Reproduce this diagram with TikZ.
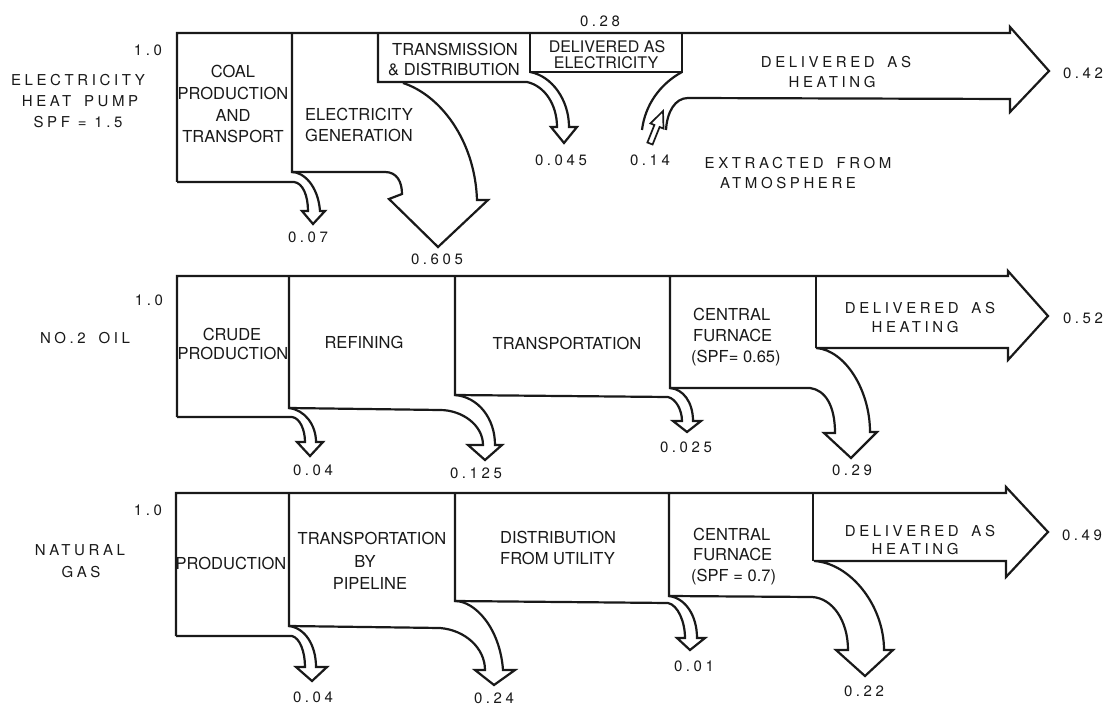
\documentclass[tikz,border=0pt]{standalone}
\usepackage{fontspec}
\setmainfont{TeX Gyre Heros}
\newfontfamily\bxfont{TeX Gyre Heros}
\newfontfamily\spfont{TeX Gyre Heros}[LetterSpace=24]
\definecolor{ink}{RGB}{25,25,25}
\newcommand\wg{\hspace{5pt}}
\tikzset{
  flow/.style={draw=ink, line width=2.2pt, line join=miter, line cap=butt},
  bx/.style={font=\bxfont\fontsize{16.5}{18}\selectfont, text=ink, inner sep=0pt, anchor=base},
  bxs/.style={bx, font=\bxfont\fontsize{16}{18}\selectfont},
  bxl/.style={bx, anchor=base west},
  sp/.style={font=\spfont\fontsize{15}{18}\selectfont, text=ink, inner sep=0pt, anchor=base},
}
\begin{document}
\begin{tikzpicture}[x=1pt,y=-1pt]
\useasboundingbox[fill=white] (0,0) rectangle (1111,708);

% ---------------- Row 1: electricity heat pump ----------------
\draw[flow] (177,182) -- (177,33) -- (1010,33) -- (1010,27) -- (1049,71) -- (1010,112) -- (1010,99) -- (688,98) .. controls (675,98) and (667,112) .. (666,130);
\draw[flow] (682,72) .. controls (660,84) and (645,105) .. (642,130);
\draw[flow] (530,33) -- (530,72) -- (682,72) -- (682,33);
\draw[flow] (378,33) -- (378,82) -- (527,82) .. controls (545,86) and (557,105) .. (557,127) -- (551,127) -- (564,143) -- (577,127) -- (569,127) .. controls (569,100) and (552,76) .. (530,72);
\draw[flow] (292,33) -- (292,172) -- (385,172) .. controls (397,172) and (402,182) .. (402,194) -- (389,199) -- (438,247) -- (488,200) -- (477,200) .. controls (475,140) and (440,95) .. (403,83);
\draw[flow] (177,182) -- (294,182) .. controls (303,183) and (308,196) .. (308,211) -- (302,211) -- (313,224) -- (325,211) -- (320,211) .. controls (318,185) and (303,172) .. (292,172);
\draw[flow, line width=1.7pt] (647.4,142.5) -- (652.6,144.5) -- (659.6,127) -- (663.5,128.6) -- (663,111) -- (650.5,123.4) -- (654.4,125) -- cycle;

\node[sp] (oneA) at (148,55.5) {1.0};
\node[sp] (labAa) at (78,85.5) {ELECTRICITY};
\node[sp] (labAb) at (80,106.5) {HEAT\wg{} PUMP};
\node[sp] (labAc) at (78,127.5) {SPF = 1.5};
\node[bx] (coalA) at (233,78) {COAL};
\node[bx] (coalB) at (233,100) {PRODUCTION};
\node[bx] (coalC) at (233,122) {AND};
\node[bx] (coalD) at (233,143) {TRANSPORT};
\node[bxl] (genA) at (305,121) {ELECTRICITY};
\node[bxl] (genB) at (305,142) {GENERATION};
\node[bx] (tdA) at (455,56) {TRANSMISSION};
\node[bx] (tdB) at (454,76) {\& DISTRIBUTION};
\node[bxs] (deA) at (607,53) {DELIVERED AS};
\node[bxs] (deB) at (606,69) {ELECTRICITY};
\node[sp] (vA28) at (600,26.5) {0.28};
\node[sp] (hAa) at (836,67.5) {DELIVERED\wg{} AS};
\node[sp] (hAb) at (832,87.5) {HEATING};
\node[sp] (vA42) at (1083,78.5) {0.42};
\node[sp] (vA045) at (561,165.5) {0.045};
\node[sp] (vA14) at (650,165.5) {0.14};
\node[sp] (exA) at (798,168.5) {EXTRACTED\wg{} FROM};
\node[sp] (exB) at (788,188.5) {ATMOSPHERE};
\node[sp] (vA07) at (308,242.5) {0.07};
\node[sp] (vA605) at (437,264.5) {0.605};

% ---------------- Row 2: No.2 oil ----------------
\draw[flow] (177,417) -- (177,276) -- (1008,276) -- (1008,271) -- (1048,316) -- (1008,360) -- (1008,348) -- (816,348) .. controls (845,350) and (870,390) .. (870,432) -- (877,432) -- (851,458) -- (824,433) -- (835,433) .. controls (835,405) and (825,390) .. (810,388) -- (670,388) -- (670,276);
\draw[flow] (816,276) -- (816,348);
\draw[flow] (455,276) -- (455,395) -- (668,397) .. controls (676,399) and (682,410) .. (682,421) -- (673,421) -- (687,432) -- (701,421) -- (693,421) .. controls (693,402) and (683,389) .. (670,388);
\draw[flow] (289,276) -- (289,408) -- (440,410) .. controls (462,410) and (483,425) .. (483,445) -- (468,445) -- (485,460) -- (502,445) -- (495,445) .. controls (495,418) and (478,397) .. (455,395);
\draw[flow] (177,417) -- (292,417) .. controls (300,418) and (305,430) .. (305,442) -- (297,442) -- (310,456) -- (323,442) -- (316,442) .. controls (316,425) and (305,410) .. (289,408);

\node[sp] (oneB) at (149,305.5) {1.0};
\node[sp] (labB) at (85,343.5) {NO.2\wg{} OIL};
\node[bx] (crA) at (232,341) {CRUDE};
\node[bx] (crB) at (233,360) {PRODUCTION};
\node[bx] (ref) at (364,349) {REFINING};
\node[bx] (trB) at (567,350) {TRANSPORTATION};
\node[bxl] (cfBa) at (693,321) {CENTRAL};
\node[bxl] (cfBb) at (693,342) {FURNACE};
\node[bxl] (cfBc) at (691,363) {(SPF= 0.65)};
\node[sp] (hBa) at (920,313.5) {DELIVERED\wg{} AS};
\node[sp] (hBb) at (915,332.5) {HEATING};
\node[sp] (vB52) at (1083,323.5) {0.52};
\node[sp] (vB04) at (313,475.5) {0.04};
\node[sp] (vB125) at (476,478.5) {0.125};
\node[sp] (vB025) at (686,452.5) {0.025};
\node[sp] (vB29) at (852,475.5) {0.29};

% ---------------- Row 3: natural gas ----------------
\draw[flow] (176,636) -- (176,493) -- (1006,493) -- (1006,487) -- (1048,532) -- (1006,577) -- (1006,561) -- (814,561) .. controls (850,563) and (884,605) .. (884,650) -- (893,650) -- (865,676) -- (836,650) -- (848,650) .. controls (848,620) and (832,598) .. (812,597) -- (669,596) -- (669,493);
\draw[flow] (813,493) -- (813,561);
\draw[flow] (455,493) -- (455,601) -- (668,603) .. controls (678,605) and (685,622) .. (685,638) -- (677,638) -- (690,650) -- (705,638) -- (697,638) .. controls (697,615) and (685,598) .. (669,596);
\draw[flow] (289,493) -- (289,626) -- (440,628) .. controls (465,630) and (485,648) .. (485,670) -- (475,670) -- (494,685) -- (515,670) -- (503,670) .. controls (500,628) and (475,601) .. (455,601);
\draw[flow] (176,636) -- (292,636) .. controls (300,638) and (305,652) .. (305,667) -- (296,667) -- (312,681) -- (327,667) -- (316,667) .. controls (316,645) and (305,628) .. (289,626);

\node[sp] (oneC) at (148,515.5) {1.0};
\node[sp] (labCa) at (80,555.5) {NATURAL};
\node[sp] (labCb) at (81,577.5) {GAS};
\node[bx] (prC) at (231,569) {PRODUCTION};
\node[bx] (ppA) at (372,544) {TRANSPORTATION};
\node[bx] (ppB) at (365,567) {BY};
\node[bx] (ppC) at (370,589) {PIPELINE};
\node[bxl] (duA) at (500,543) {DISTRIBUTION};
\node[bxl] (duB) at (500,564) {FROM UTILITY};
\node[bxl] (cfCa) at (693,540) {CENTRAL};
\node[bxl] (cfCb) at (693,560) {FURNACE};
\node[bxl] (cfCc) at (691,581) {(SPF = 0.7)};
\node[sp] (hCa) at (920,536.5) {DELIVERED\wg{} AS};
\node[sp] (hCb) at (915,554.5) {HEATING};
\node[sp] (vC49) at (1082,540.5) {0.49};
\node[sp] (vC04) at (313,702.5) {0.04};
\node[sp] (vC24) at (494,703.5) {0.24};
\node[sp] (vC01) at (694,671.5) {0.01};
\node[sp] (vC22) at (864,696.5) {0.22};
\end{tikzpicture}
\end{document}
